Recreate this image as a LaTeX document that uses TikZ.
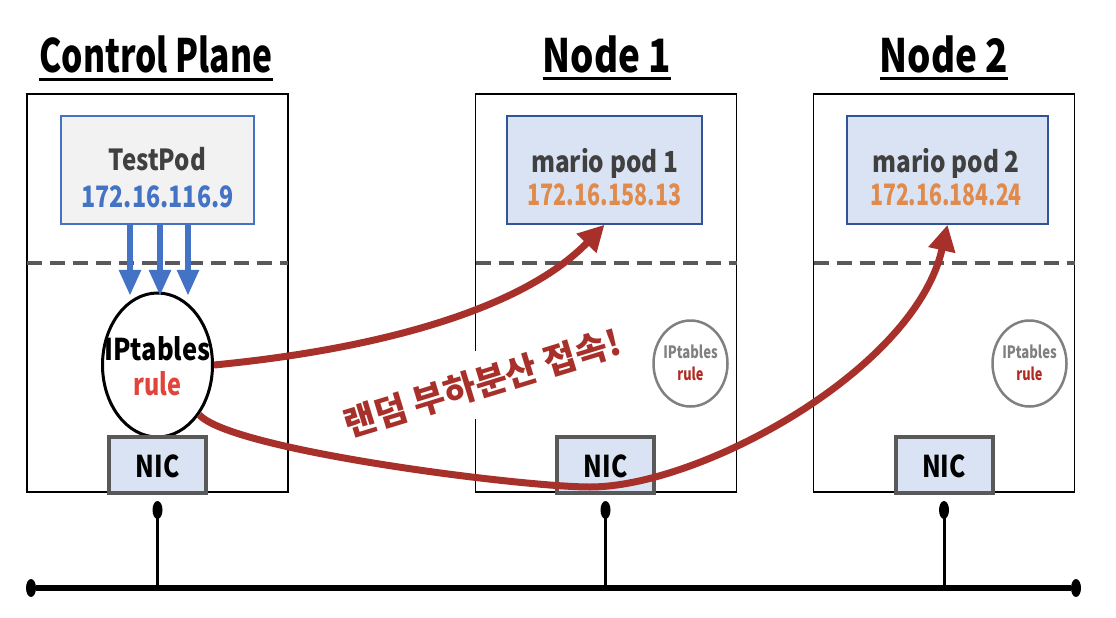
\documentclass[tikz,border=0pt]{standalone}
\usepackage{fontspec}
\usepackage{graphicx}
\setmainfont{Noto Sans CJK KR}
\newfontfamily\kr{Noto Sans CJK KR}
\usetikzlibrary{arrows.meta,shapes.geometric}
\definecolor{txtgray}{HTML}{404040}
\definecolor{ipblue}{HTML}{4472C4}
\definecolor{iporange}{HTML}{E08A4C}
\definecolor{podfill}{HTML}{DAE3F3}
\definecolor{tpfill}{HTML}{F2F2F2}
\definecolor{podedge}{HTML}{2F5597}
\definecolor{nicedge}{HTML}{595959}
\definecolor{arrowred}{HTML}{A8302A}
\definecolor{rulered}{HTML}{E0443A}
\definecolor{smallred}{HTML}{B02A22}
\definecolor{smallgray}{HTML}{808080}
\newcommand\sx[2][0.8]{\scalebox{#1}[1]{#2}}
\tikzset{
  hostbox/.style={draw=black, line width=1.8pt, minimum width=261pt, minimum height=398pt, inner sep=0},
  titletext/.style={font=\bfseries\fontsize{46}{46}\selectfont, inner sep=0, anchor=base},
  podbox/.style={draw=podedge, fill=podfill, line width=1.5pt, minimum height=108pt, inner sep=0},
  tpbox/.style={draw=ipblue, fill=tpfill, line width=1.5pt, minimum height=108pt, inner sep=0},
  podname/.style={font=\bfseries\fontsize{29}{29}\selectfont, text=txtgray, inner sep=0, anchor=base},
  podip/.style={font=\bfseries\fontsize{29.5}{29}\selectfont, inner sep=0, anchor=base},
  nicbox/.style={draw=nicedge, fill=podfill, line width=4pt, minimum width=97pt, minimum height=56pt, inner sep=0},
  nictext/.style={font=\bfseries\fontsize{30}{30}\selectfont, text=black, inner sep=0, anchor=base},
  sepline/.style={draw=nicedge, line width=4pt, dash pattern=on 15pt off 8pt},
  bigell/.style={ellipse, draw=black, line width=3pt, minimum width=110pt, minimum height=144pt, inner sep=0},
  smallell/.style={ellipse, draw=smallgray, line width=2.5pt, minimum width=74pt, minimum height=86pt, inner sep=0},
  biglbl/.style={font=\bfseries\fontsize{30}{30}\selectfont, inner sep=0, anchor=base},
  smalllbl/.style={font=\bfseries\fontsize{17}{17}\selectfont, inner sep=0, anchor=base},
  blarrow/.style={draw=ipblue, line width=6pt, -{Triangle[length=26pt,width=21pt]}},
  redarrow/.style={draw=arrowred, line width=7pt, -{Triangle[length=26pt,width=26pt]}},
  bus/.style={draw=black, line width=6pt},
  stub/.style={draw=black, line width=3pt},
  dot/.style={ellipse, fill=black, minimum width=10pt, minimum height=18pt, inner sep=0},
}
\begin{document}
\begin{tikzpicture}[x=1pt,y=-1pt]
\useasboundingbox (0,0) rectangle (1116,618);
\fill[white] (0,0) rectangle (1116,618);

% titles
\node[titletext] (t0) at (156,73) {\sx[0.73]{Control Plane}};
\node[titletext] (t1) at (607,72) {\sx[0.80]{Node 1}};
\node[titletext] (t2) at (944,72) {\sx[0.80]{Node 2}};
\foreach \t in {t0,t1,t2}{
  \draw[line width=3pt] ([yshift=-6pt]\t.base west) -- ([yshift=-6pt]\t.base east);
}

% host boxes
\node[hostbox] (cp) at (157.5,293) {};
\node[hostbox] (n1) at (606,293) {};
\node[hostbox] (n2) at (944,293) {};

% separators
\draw[sepline] (27,263) -- (288,263);
\draw[sepline] (475.5,263) -- (736.5,263);
\draw[sepline] (813.5,263) -- (1074.5,263);

% pods
\node[tpbox, minimum width=193pt] (tp) at (157.5,170) {};
\node[podname] (tpn) at (157.5,170) {\sx[0.83]{TestPod}};
\node[podip, text=ipblue] (tpi) at (157.5,207) {\sx[0.79]{172.16.116.9}};

\node[podbox, minimum width=195pt] (mp1) at (604.5,170) {};
\node[podname] (mp1n) at (604.5,172) {\sx[0.84]{mario pod 1}};
\node[podip, text=iporange] (mp1i) at (604.5,205) {\sx[0.73]{172.16.158.13}};

\node[podbox, minimum width=201pt] (mp2) at (947.5,170) {};
\node[podname] (mp2n) at (946,172) {\sx[0.84]{mario pod 2}};
\node[podip, text=iporange] (mp2i) at (946,205) {\sx[0.72]{172.16.184.24}};

% iptables
\node[bigell] (ipt) at (157.5,365) {};
\node[biglbl] (iptl) at (157.5,360) {\sx[0.85]{IPtables}};
\node[biglbl, text=rulered] (iptr) at (157.5,395) {\sx[0.78]{rule}};

\node[smallell] (s1) at (690.5,363.5) {};
\node[smalllbl, text=smallgray] (s1l) at (690.5,358) {\sx[0.77]{IPtables}};
\node[smalllbl, text=smallred] (s1r) at (690.5,380) {\sx[0.75]{rule}};

\node[smallell] (s2) at (1029.5,363.5) {};
\node[smalllbl, text=smallgray] (s2l) at (1029.5,358) {\sx[0.77]{IPtables}};
\node[smalllbl, text=smallred] (s2r) at (1029.5,380) {\sx[0.75]{rule}};

% NICs
\node[nicbox] (nic0) at (157.5,465) {};
\node[nictext] (nic0t) at (157.5,477) {\sx[0.82]{NIC}};
\node[nicbox] (nic1) at (605.5,465) {};
\node[nictext] (nic1t) at (605.5,477) {\sx[0.82]{NIC}};
\node[nicbox] (nic2) at (944,465) {};
\node[nictext] (nic2t) at (944,477) {\sx[0.82]{NIC}};

% blue arrows
\draw[blarrow] ([xshift=-27.5pt]tp.south) -- ++(0,71);
\draw[blarrow] ([xshift=2.5pt]tp.south) -- ++(0,71);
\draw[blarrow] ([xshift=30.5pt]tp.south) -- ++(0,71);

% label
\node[rotate=17, fill=white, inner xsep=4pt, inner ysep=16pt, text=arrowred,
      font=\kr\bfseries\fontsize{35}{35}\selectfont] (lbl) at (482,383) {랜덤 부하분산 접속!};

% red arrows
\draw[redarrow] (ipt.east) .. controls (370,350) and (520,312) .. (mp1.south);
\coordinate (low) at (590,487);
\draw[redarrow] (ipt.-50) .. controls (230,450) and (520,487) .. (low)
   .. controls (700,487) and (915,370) .. (mp2.south);

% network
\node[dot] (e0) at (31,588) {};
\node[dot] (e1) at (1076,588) {};
\draw[bus] (e0) -- (e1);
\node[dot] (d0) at (157.5,510) {};
\node[dot] (d1) at (605.5,510) {};
\node[dot] (d2) at (944,510) {};
\draw[stub] (d0.center) -- (d0.center |- e0.center);
\draw[stub] (d1.center) -- (d1.center |- e0.center);
\draw[stub] (d2.center) -- (d2.center |- e0.center);
\end{tikzpicture}
\end{document}
